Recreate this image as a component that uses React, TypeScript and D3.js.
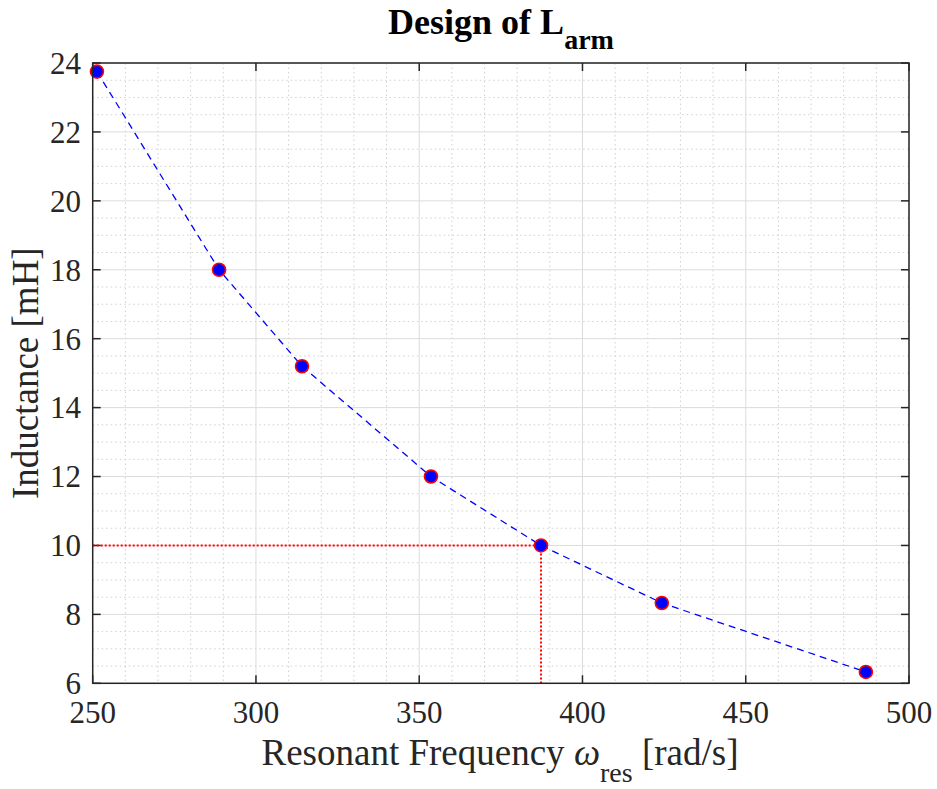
import React from "react";
import * as d3 from "d3";

const omega = [251.3, 288.7, 314.1, 353.6, 387.3, 424.3, 486.8];
const inductance = [23.75, 18, 15.2, 12, 10, 8.33, 6.33];
const xTicks = [250, 300, 350, 400, 450, 500];
const yTicks = [6, 8, 10, 12, 14, 16, 18, 20, 22, 24];
const selOmega = 387.3;
const selL = 10;

const W = 937, H = 789;
const M = { left: 92.7, right: 909, top: 63, bottom: 683.3 };

export default function App() {
  const x = d3.scaleLinear().domain([250, 500]).range([M.left, M.right]);
  const y = d3.scaleLinear().domain([6, 24]).range([M.bottom, M.top]);
  const xMinor = d3.range(250, 500.1, 10).filter((v) => v % 50 !== 0);
  const yMinor = d3.range(6, 24.01, 0.5).filter((v) => v % 2 !== 0);
  const line = d3
    .line<number>()
    .x((_, i) => x(omega[i]))
    .y((d) => y(d));
  const font = "'Liberation Serif', 'Times New Roman', serif";
  const axisColor = "#262626";
  const tickLen = 8;
  return (
    <div style={{ position: "fixed", left: 0, top: 0 }}>
      <svg width={W} height={H} style={{ display: "block", background: "#fff" }}>
        <rect x={0} y={0} width={W} height={H} fill="#fff" />
        {/* minor grid */}
        {xMinor.map((v) => (
          <line key={"xm" + v} x1={x(v)} x2={x(v)} y1={M.top} y2={M.bottom} stroke="#d0d0d0" strokeWidth={1} strokeDasharray="1.5,3" />
        ))}
        {yMinor.map((v) => (
          <line key={"ym" + v} x1={M.left} x2={M.right} y1={y(v)} y2={y(v)} stroke="#d0d0d0" strokeWidth={1} strokeDasharray="1.5,3" />
        ))}
        {/* major grid */}
        {xTicks.map((v) => (
          <line key={"xg" + v} x1={x(v)} x2={x(v)} y1={M.top} y2={M.bottom} stroke="#dcdcdc" strokeWidth={1} />
        ))}
        {yTicks.map((v) => (
          <line key={"yg" + v} x1={M.left} x2={M.right} y1={y(v)} y2={y(v)} stroke="#dcdcdc" strokeWidth={1} />
        ))}
        {/* ticks */}
        {xTicks.map((v) => (
          <g key={"xt" + v}>
            <line x1={x(v)} x2={x(v)} y1={M.bottom} y2={M.bottom - tickLen} stroke={axisColor} strokeWidth={1.5} />
            <line x1={x(v)} x2={x(v)} y1={M.top} y2={M.top + tickLen} stroke={axisColor} strokeWidth={1.5} />
            <text x={x(v)} y={723} fontFamily={font} fontSize={31} fill={axisColor} textAnchor="middle">{v}</text>
          </g>
        ))}
        {yTicks.map((v) => (
          <g key={"yt" + v}>
            <line x1={M.left} x2={M.left + tickLen} y1={y(v)} y2={y(v)} stroke={axisColor} strokeWidth={1.5} />
            <line x1={M.right} x2={M.right - tickLen} y1={y(v)} y2={y(v)} stroke={axisColor} strokeWidth={1.5} />
            <text x={81} y={y(v)} dy="0.35em" fontFamily={font} fontSize={31} fill={axisColor} textAnchor="end">{v}</text>
          </g>
        ))}
        {/* selection lines */}
        <line x1={x(250)} x2={x(selOmega)} y1={y(selL)} y2={y(selL)} stroke="#ff0000" strokeWidth={2} strokeDasharray="2,2" />
        <line x1={x(selOmega)} x2={x(selOmega)} y1={y(selL)} y2={y(6)} stroke="#ff0000" strokeWidth={2} strokeDasharray="2,2" />
        {/* data line */}
        <path d={line(inductance) || ""} fill="none" stroke="#0000ff" strokeWidth={1.3} strokeDasharray="7,5" />
        {inductance.map((d, i) => (
          <circle key={"p" + i} cx={x(omega[i])} cy={y(d)} r={6.5} fill="#0000ff" stroke="#ff0000" strokeWidth={1.6} />
        ))}
        {/* box */}
        <rect x={M.left} y={M.top} width={M.right - M.left} height={M.bottom - M.top} fill="none" stroke={axisColor} strokeWidth={1.5} />
        {/* title */}
        <text x={501} y={34} fontFamily={font} fontSize={36} fontWeight="bold" fill="#000" textAnchor="middle">
          Design of L<tspan fontSize={28} dy={15}>arm</tspan>
        </text>
        {/* x label */}
        <text x={500} y={765} fontFamily={font} fontSize={37} fill={axisColor} textAnchor="middle">
          Resonant Frequency <tspan fontStyle="italic">ω</tspan><tspan fontSize={28} dy={17}>res</tspan><tspan dy={-17}> [rad/s]</tspan>
        </text>
        {/* y label */}
        <text transform={`translate(38,${(M.top + M.bottom) / 2}) rotate(-90)`} fontFamily={font} fontSize={37} fill={axisColor} textAnchor="middle">
          Inductance [mH]
        </text>
      </svg>
    </div>
  );
}
